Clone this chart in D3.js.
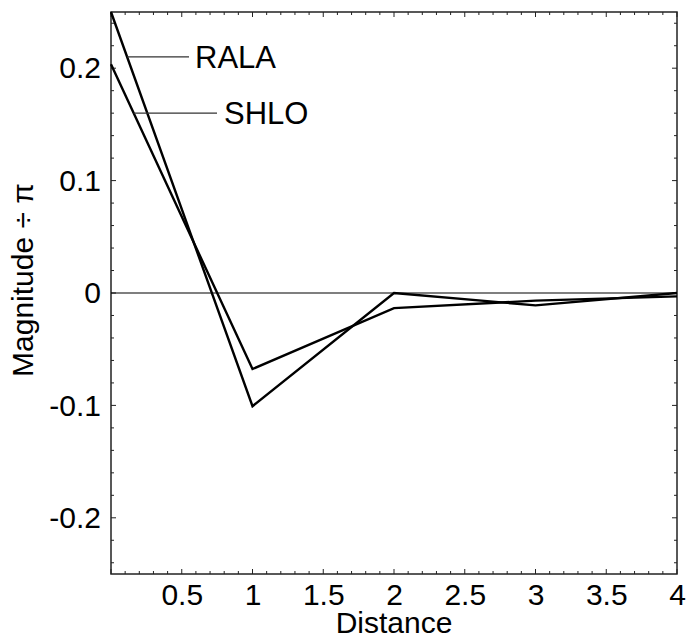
<!DOCTYPE html>
<html><head><meta charset="utf-8">
<script src="https://cdn.jsdelivr.net/npm/d3@7"></script>
<style>body{margin:0;background:#fff}svg{display:block}text{font-family:"Liberation Sans",Arial,sans-serif;fill:#000}</style>
</head><body>
<script>
const distances = [0, 1, 2, 3, 4];
const ralaValues = [0.25, -0.1007, 0.0, -0.011, 0.0];
const shloValues = [0.2035, -0.0676, -0.0135, -0.0068, -0.003];
const seriesNames = ["RALA", "SHLO"];
const labelYValues = [0.21, 0.16];
const xTickLabels = [0.5, 1, 1.5, 2, 2.5, 3, 3.5, 4];
const yTickLabels = [-0.2, -0.1, 0, 0.1, 0.2];

const W = 686, H = 639;
const m = {left: 111, right: 9, top: 12, bottom: 65};
const svg = d3.select("body").append("svg").attr("width", W).attr("height", H);
const x = d3.scaleLinear().domain([0, 4]).range([m.left, W - m.right]);
const y = d3.scaleLinear().domain([-0.25, 0.25]).range([H - m.bottom, m.top]);
const fs = 30;

const xMinor = d3.range(0, 41).map(i => i / 10);
const yMinor = d3.range(-12, 13).map(i => i / 50);
const isMajorX = v => Math.abs(v * 2 - Math.round(v * 2)) < 1e-6;
const isMajorY = v => Math.abs(v * 10 - Math.round(v * 10)) < 1e-6;
const tk = svg.append("g").attr("stroke", "#222").attr("stroke-width", 1);
xMinor.forEach(v => {
  const L = isMajorX(v) ? 5 : 3;
  tk.append("line").attr("x1", x(v)).attr("x2", x(v)).attr("y1", y(-0.25)).attr("y2", y(-0.25) - L);
  tk.append("line").attr("x1", x(v)).attr("x2", x(v)).attr("y1", y(0.25)).attr("y2", y(0.25) + L);
});
yMinor.forEach(v => {
  const L = isMajorY(v) ? 5 : 3;
  tk.append("line").attr("y1", y(v)).attr("y2", y(v)).attr("x1", x(0)).attr("x2", x(0) + L);
  tk.append("line").attr("y1", y(v)).attr("y2", y(v)).attr("x1", x(4)).attr("x2", x(4) - L);
});

svg.append("rect").attr("x", x(0)).attr("y", y(0.25)).attr("width", x(4) - x(0)).attr("height", y(-0.25) - y(0.25))
  .attr("fill", "none").attr("stroke", "#222").attr("stroke-width", 1.5);

svg.append("line").attr("x1", x(0)).attr("x2", x(4)).attr("y1", y(0)).attr("y2", y(0)).attr("stroke", "#000").attr("stroke-width", 1.2);

const xAxis = svg.append("g").attr("transform", `translate(0,${y(-0.25)})`)
  .call(d3.axisBottom(x).tickValues(xTickLabels).tickSize(0).tickFormat(d => String(d)));
xAxis.select(".domain").remove();
xAxis.selectAll("text").attr("font-size", fs).attr("font-family", '"Liberation Sans",Arial,sans-serif').attr("y", 31).attr("dy", 0);
const yAxis = svg.append("g").attr("transform", `translate(${x(0)},0)`)
  .call(d3.axisLeft(y).tickValues(yTickLabels).tickSize(0).tickPadding(10).tickFormat(d => d === 0 ? "0" : String(d)));
yAxis.select(".domain").remove();
yAxis.selectAll("text").attr("font-size", fs).attr("font-family", '"Liberation Sans",Arial,sans-serif');

svg.append("text").attr("x", (x(0) + x(4)) / 2).attr("y", 633).attr("text-anchor", "middle").attr("font-size", fs).text("Distance");
svg.append("text").attr("transform", "translate(33,280) rotate(-90)").attr("text-anchor", "middle").attr("font-size", fs).text("Magnitude ÷ π");

const series = [ralaValues, shloValues];
const line = d3.line().x((d, i) => x(distances[i])).y(d => y(d));
series.forEach(vals => {
  svg.append("path").datum(vals).attr("d", line).attr("fill", "none").attr("stroke", "#000").attr("stroke-width", 2.4).attr("stroke-linejoin", "miter");
});

const labelTextX = [195, 224];
const leaderEnd = [189, 217];
series.forEach((vals, k) => {
  const yv = labelYValues[k];
  const t = (vals[0] - yv) / (vals[0] - vals[1]);
  const xs = x(distances[0] + t * (distances[1] - distances[0]));
  svg.append("line").attr("x1", xs).attr("x2", leaderEnd[k]).attr("y1", y(yv)).attr("y2", y(yv)).attr("stroke", "#333").attr("stroke-width", 1.2);
  svg.append("text").attr("x", labelTextX[k]).attr("y", y(yv)).attr("dy", "0.36em").attr("font-size", fs + 1).text(seriesNames[k]);
});
</script>
</body></html>
